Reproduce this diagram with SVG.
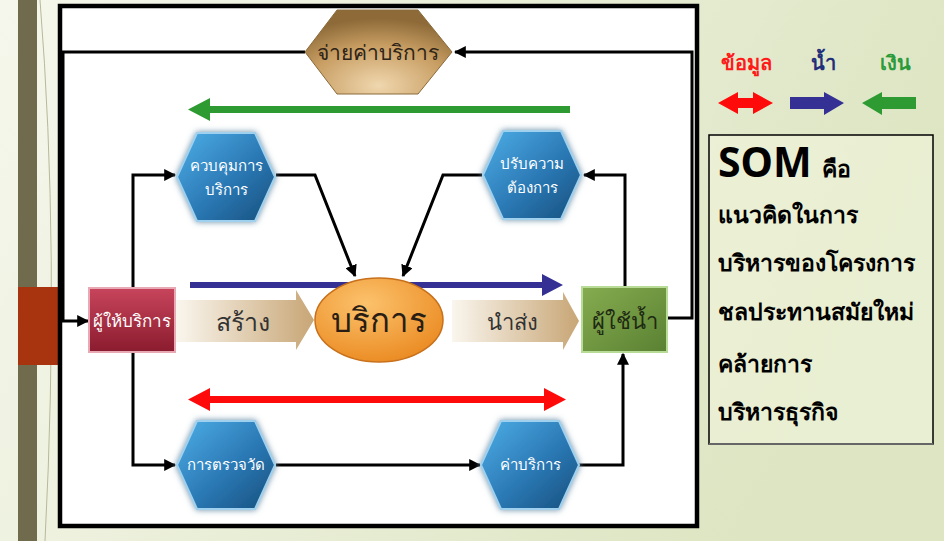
<svg xmlns="http://www.w3.org/2000/svg" width="944" height="541" viewBox="0 0 944 541">
<defs>
<linearGradient id="bg" x1="0" y1="0" x2="1" y2="0.3"><stop offset="0" stop-color="#f5f7ec"/><stop offset="1" stop-color="#dde5c2"/></linearGradient>
<linearGradient id="blueHex" x1="0" y1="0" x2="1" y2="1"><stop offset="0" stop-color="#4eaee6"/><stop offset="0.55" stop-color="#2a78b4"/><stop offset="1" stop-color="#174f7c"/></linearGradient>
<radialGradient id="goldHex" cx="0.5" cy="0.9" r="0.8"><stop offset="0" stop-color="#f0d7ae"/><stop offset="0.6" stop-color="#c79d62"/><stop offset="1" stop-color="#8d6a38"/></radialGradient>
<linearGradient id="redBox" x1="0" y1="0" x2="0" y2="1"><stop offset="0" stop-color="#c8455c"/><stop offset="1" stop-color="#8a1b2e"/></linearGradient>
<linearGradient id="greenBox" x1="0" y1="0" x2="1" y2="1"><stop offset="0" stop-color="#86ac50"/><stop offset="1" stop-color="#5a8132"/></linearGradient>
<radialGradient id="orange" cx="0.4" cy="0.3" r="0.8"><stop offset="0" stop-color="#fcc26c"/><stop offset="1" stop-color="#e9861c"/></radialGradient>
<linearGradient id="tan" x1="0" y1="0" x2="1" y2="0"><stop offset="0" stop-color="#faf6ee"/><stop offset="1" stop-color="#c8a676"/></linearGradient>
<filter id="glow" x="-20%" y="-20%" width="140%" height="140%"><feGaussianBlur in="SourceAlpha" stdDeviation="3"/><feFlood flood-color="#6a8fa8"/><feComposite operator="in" in2="SourceAlpha"/><feGaussianBlur stdDeviation="3"/><feMerge><feMergeNode/><feMergeNode in="SourceGraphic"/></feMerge></filter>
<marker id="ah" viewBox="0 0 10 10" refX="9" refY="5" markerWidth="12" markerHeight="12" markerUnits="userSpaceOnUse" orient="auto"><path d="M0,0 L10,5 L0,10 Z" fill="#000"/></marker>
<polygon id="hex" points="-49,0 -29,-44 29,-44 49,0 29,44 -29,44"/>
<style>
.conn{fill:none;stroke:#000;stroke-width:3;marker-end:url(#ah)}
.bh{fill:url(#blueHex);stroke:#9fd0ee;stroke-width:2;filter:url(#glow)}
.ht{font-family:"Noto Sans",sans-serif;fill:#fff;font-size:15px;text-anchor:middle}
.th{font-family:"Noto Sans",sans-serif;text-anchor:middle}
.box{font-family:"Noto Sans",sans-serif;font-weight:bold;font-size:23px;fill:#000}
</style>
</defs>
<rect width="944" height="541" fill="url(#bg)"/>
<rect x="18" y="0" width="19" height="541" fill="#716b4d"/>
<path d="M40,0 Q60,250 45,541" fill="none" stroke="#b8b89a" stroke-width="1"/>
<rect x="18" y="287" width="40" height="78" fill="#a8330f"/>
<rect x="60" y="6" width="637" height="520" fill="#fff" stroke="#000" stroke-width="4.5"/>

<g id="connectors">
<path class="conn" d="M668,318 H692 V52 H455"/>
<path class="conn" d="M305,52 H63 V321 H88"/>
<path class="conn" d="M133,288 V175 H175"/>
<path class="conn" d="M276,175 H315 L355,276"/>
<path class="conn" d="M482,175 H443 L403,276"/>
<path class="conn" d="M625,287 V175 H584"/>
<path class="conn" d="M133,352 V465 H175"/>
<path class="conn" d="M276,465 H480"/>
<path class="conn" d="M578,465 H623 V354"/>
</g>

<g id="flows">
<path d="M570,106 H210 V98 L188,109.5 L210,121 V113 H570 Z" fill="#2e9b32"/>
<path d="M190,282 H542 V274 L563,285 L542,296 V288 H190 Z" fill="#343094"/>
<path d="M210,396 H544 V388 L566,399.5 L544,411 V403 H210 V411 L188,399.5 L210,388 Z" fill="#ff0a0a"/>
</g>

<g id="pay">
<polygon points="305,52 337,10 418,10 452,52 418,94 337,94" fill="url(#goldHex)" stroke="#8a6a3a" stroke-width="1"/>
<text class="th" x="378" y="60" font-size="21" fill="#2e2418">จ่ายค่าบริการ</text>
</g>

<g id="control">
<use href="#hex" class="bh" transform="translate(226,177)"/>
<text class="ht" x="226" y="171">ควบคุมการ</text>
<text class="ht" x="226" y="195">บริการ</text>
</g>

<g id="adjust">
<use href="#hex" class="bh" transform="translate(532,175)"/>
<text class="ht" x="532" y="169">ปรับความ</text>
<text class="ht" x="532" y="193">ต้องการ</text>
</g>

<g id="measure">
<use href="#hex" class="bh" transform="translate(226,465)"/>
<text class="ht" x="226" y="470">การตรวจวัด</text>
</g>

<g id="fee">
<use href="#hex" class="bh" transform="translate(530,465)"/>
<text class="ht" x="530" y="470">ค่าบริการ</text>
</g>

<g id="provider">
<rect x="89" y="288" width="86" height="64" fill="url(#redBox)" stroke="#e8a8b4" stroke-width="2"/>
<text class="th" x="132" y="327" font-size="17" fill="#fff">ผู้ให้บริการ</text>
</g>

<g id="create">
<path d="M176,300 H296 V290 L314,320 L296,350 V342 H176 Z" fill="url(#tan)"/>
<text class="th" x="243" y="331" font-size="25" fill="#333">สร้าง</text>
</g>

<g id="service">
<ellipse cx="379" cy="320" rx="64" ry="42" fill="url(#orange)" stroke="#c8701a" stroke-width="1.5"/>
<text class="th" x="379" y="332" font-size="33" fill="#2a1e14">บริการ</text>
</g>

<g id="deliver">
<path d="M452,300 H563 V292 L579,321 L563,350 V342 H452 Z" fill="url(#tan)"/>
<text class="th" x="512" y="330" font-size="22" fill="#333">นำส่ง</text>
</g>

<g id="user">
<rect x="582" y="287" width="85" height="65" fill="url(#greenBox)" stroke="#b8dc98" stroke-width="2"/>
<text class="th" x="625" y="329" font-size="22" fill="#1e2a12">ผู้ใช้น้ำ</text>
</g>

<g id="legend">
<text class="th" x="746" y="70" font-size="20" font-weight="bold" fill="#ff1a1a">ข้อมูล</text>
<text class="th" x="823" y="70" font-size="20" font-weight="bold" fill="#1f2f7a">น้ำ</text>
<text class="th" x="895" y="70" font-size="20" font-weight="bold" fill="#2a9a3a">เงิน</text>
<path d="M718,103 L738,92 V98 H753 V92 L773,103 L753,114 V108 H738 V114 Z" fill="#ff0a0a"/>
<path d="M790,97 H824 V92 L844,103 L824,115 V109 H790 Z" fill="#343094"/>
<path d="M916,97 H882 V92 L862,103 L882,115 V109 H916 Z" fill="#2e9b32"/>
</g>

<g id="som">
<rect x="709" y="135" width="224" height="309" fill="#f2f5dc" fill-opacity="0.6" stroke="#000" stroke-width="1.5"/>
<line x1="709" y1="444" x2="933" y2="444" stroke="#666" stroke-width="2"/>
<text class="box" x="718" y="177"><tspan font-size="41">SOM</tspan><tspan font-size="23" dx="10">คือ</tspan></text>
<text class="box" x="718" y="223">แนวคิดในการ</text>
<text class="box" x="718" y="271">บริหารของโครงการ</text>
<text class="box" x="718" y="320">ชลประทานสมัยใหม่</text>
<text class="box" x="718" y="372">คล้ายการ</text>
<text class="box" x="718" y="420">บริหารธุรกิจ</text>
</g>
</svg>
